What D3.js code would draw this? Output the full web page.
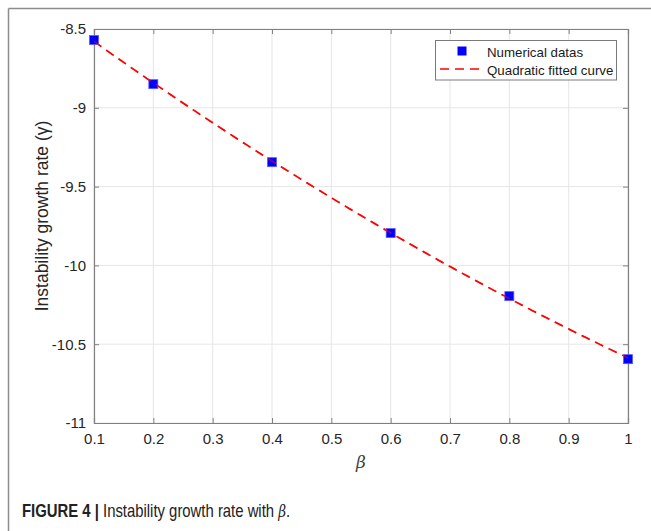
<!DOCTYPE html>
<html>
<head>
<meta charset="utf-8">
<script src="https://cdn.jsdelivr.net/npm/d3@7"></script>
<style>
  html, body { margin: 0; padding: 0; background: #fff; }
  svg { display: block; font-family: "Liberation Sans", Arial, Helvetica, sans-serif; }
</style>
</head>
<body>
<svg id="chart" width="651" height="531"></svg>
<script>
// Numerical instability growth rate sampled at several β values
const betaValues = [0.1, 0.2, 0.4, 0.6, 0.8, 1.0];
const gammaValues = [-8.57, -8.85, -9.345, -9.795, -10.195, -10.595];

const xTicks = [0.1, 0.2, 0.3, 0.4, 0.5, 0.6, 0.7, 0.8, 0.9, 1];
const yTicks = [-8.5, -9, -9.5, -10, -10.5, -11];
const xTickLabels = ["0.1", "0.2", "0.3", "0.4", "0.5", "0.6", "0.7", "0.8", "0.9", "1"];
const yTickLabels = ["-8.5", "-9", "-9.5", "-10", "-10.5", "-11"];

const legendLabels = ["Numerical datas", "Quadratic fitted curve"];

// Least-squares quadratic fit of gamma against beta
function quadFit(xs, ys) {
  let s = [0, 0, 0, 0, 0], t = [0, 0, 0];
  xs.forEach((x, i) => {
    const y = ys[i];
    for (let k = 0; k < 5; k++) s[k] += Math.pow(x, k);
    for (let k = 0; k < 3; k++) t[k] += y * Math.pow(x, k);
  });
  const A = [[s[0], s[1], s[2]], [s[1], s[2], s[3]], [s[2], s[3], s[4]]];
  const det = m => m[0][0]*(m[1][1]*m[2][2]-m[1][2]*m[2][1]) - m[0][1]*(m[1][0]*m[2][2]-m[1][2]*m[2][0]) + m[0][2]*(m[1][0]*m[2][1]-m[1][1]*m[2][0]);
  const D = det(A);
  const coef = [0, 1, 2].map(c => {
    const M = A.map((row, r) => row.map((v, j) => j === c ? t[r] : v));
    return det(M) / D;
  });
  return x => coef[0] + coef[1] * x + coef[2] * x * x;
}
const fit = quadFit(betaValues, gammaValues);
const fitBeta = d3.range(0, 91).map(i => 0.1 + i * 0.01);

const svg = d3.select("#chart");

// Panel frame
svg.append("line").attr("x1", 8.5).attr("y1", 8.5).attr("x2", 651).attr("y2", 8.5)
  .attr("stroke", "#8c8c8c").attr("stroke-width", 1.5);
svg.append("line").attr("x1", 8.5).attr("y1", 8.5).attr("x2", 8.5).attr("y2", 531)
  .attr("stroke", "#8c8c8c").attr("stroke-width", 1.5);

const plot = { left: 94, right: 628, top: 29, bottom: 423 };
const x = d3.scaleLinear().domain([0.1, 1]).range([plot.left, plot.right]);
const y = d3.scaleLinear().domain([-11, -8.5]).range([plot.bottom, plot.top]);

const g = svg.append("g");

// Grid
g.append("g").selectAll("line").data(xTicks).join("line")
  .attr("x1", d => x(d)).attr("x2", d => x(d))
  .attr("y1", plot.top).attr("y2", plot.bottom)
  .attr("stroke", "#e6e6e6").attr("stroke-width", 1);
g.append("g").selectAll("line").data(yTicks).join("line")
  .attr("y1", d => y(d)).attr("y2", d => y(d))
  .attr("x1", plot.left).attr("x2", plot.right)
  .attr("stroke", "#e6e6e6").attr("stroke-width", 1);

// Axes with inward ticks
const tickLen = 5;
const axisColor = "#808080";
const xAxisB = d3.axisBottom(x).tickValues(xTicks).tickSize(-tickLen).tickPadding(10)
  .tickFormat((d, i) => xTickLabels[i]);
const xAxisT = d3.axisTop(x).tickValues(xTicks).tickSize(-tickLen).tickFormat("");
const yAxisL = d3.axisLeft(y).tickValues(yTicks).tickSize(-tickLen).tickPadding(8)
  .tickFormat((d, i) => yTickLabels[i]);
const yAxisR = d3.axisRight(y).tickValues(yTicks).tickSize(-tickLen).tickFormat("");

function styleAxis(sel) {
  sel.select(".domain").attr("stroke", axisColor).attr("stroke-width", 1.2);
  sel.selectAll(".tick line").attr("stroke", axisColor).attr("stroke-width", 1);
  sel.selectAll(".tick text").attr("fill", "#262626").attr("font-size", 15)
    .attr("font-family", "Liberation Sans, Arial, sans-serif");
}
g.append("g").attr("transform", `translate(0,${plot.bottom})`).call(xAxisB).call(styleAxis);
g.append("g").attr("transform", `translate(0,${plot.top})`).call(xAxisT).call(styleAxis);
g.append("g").attr("transform", `translate(${plot.left},0)`).call(yAxisL).call(styleAxis);
g.append("g").attr("transform", `translate(${plot.right},0)`).call(yAxisR).call(styleAxis);

// Fitted curve
const line = d3.line().x(d => x(d)).y(d => y(fit(d)));
g.append("path").datum(fitBeta).attr("d", line)
  .attr("fill", "none").attr("stroke", "#ff0000").attr("stroke-width", 1.6)
  .attr("stroke-dasharray", "9,6");

// Data markers
const ms = 9;
g.append("g").selectAll("rect").data(betaValues).join("rect")
  .attr("x", (d) => x(d) - ms / 2)
  .attr("y", (d, i) => y(gammaValues[i]) - ms / 2)
  .attr("width", ms).attr("height", ms)
  .attr("fill", "#0000ff").attr("stroke", "#5a5aff").attr("stroke-width", 0.8);

// Faint pass of the fit over the markers
g.append("path").datum(fitBeta).attr("d", line)
  .attr("fill", "none").attr("stroke", "#ff0000").attr("stroke-width", 1.6)
  .attr("stroke-dasharray", "9,6").attr("opacity", 0.55);

// Axis titles
svg.append("text").attr("x", 361).attr("y", 468)
  .attr("text-anchor", "middle").attr("font-size", 17).attr("font-style", "italic")
  .attr("font-family", "DejaVu Serif, serif").attr("fill", "#404040").text("β");
svg.append("text").attr("transform", "translate(48,216) rotate(-90)")
  .attr("text-anchor", "middle").attr("font-size", 17.5).attr("fill", "#262626")
  .text("Instability growth rate (γ)");

// Legend
const lg = svg.append("g");
lg.append("rect").attr("x", 435.5).attr("y", 40.5).attr("width", 181).attr("height", 39.5)
  .attr("fill", "#fff").attr("stroke", "#7a7a7a").attr("stroke-width", 1);
lg.append("rect").attr("x", 462 - ms / 2).attr("y", 51 - ms / 2).attr("width", ms).attr("height", ms)
  .attr("fill", "#0000ff");
lg.append("line").attr("x1", 440).attr("x2", 484).attr("y1", 69).attr("y2", 69)
  .attr("stroke", "#ff0000").attr("stroke-width", 1.6).attr("stroke-dasharray", "9,6");
lg.selectAll("text.lab").data(legendLabels).join("text").attr("class", "lab")
  .attr("x", 487).attr("y", (d, i) => 52 + i * 18).attr("dy", "0.35em")
  .attr("font-size", 13.3).attr("fill", "#1a1a1a").text(d => d);

// Caption (condensed horizontally)
const cap = svg.append("text").attr("transform", "translate(22,517) scale(0.85,1)")
  .attr("font-size", 17.5).attr("fill", "#222");
cap.append("tspan").attr("font-weight", "bold").text("FIGURE 4 | ");
cap.append("tspan").text("Instability growth rate with ");
cap.append("tspan").attr("font-style", "italic").attr("font-family", "DejaVu Serif, serif").attr("font-size", 16).text("β");
cap.append("tspan").text(".");
</script>
</body>
</html>
